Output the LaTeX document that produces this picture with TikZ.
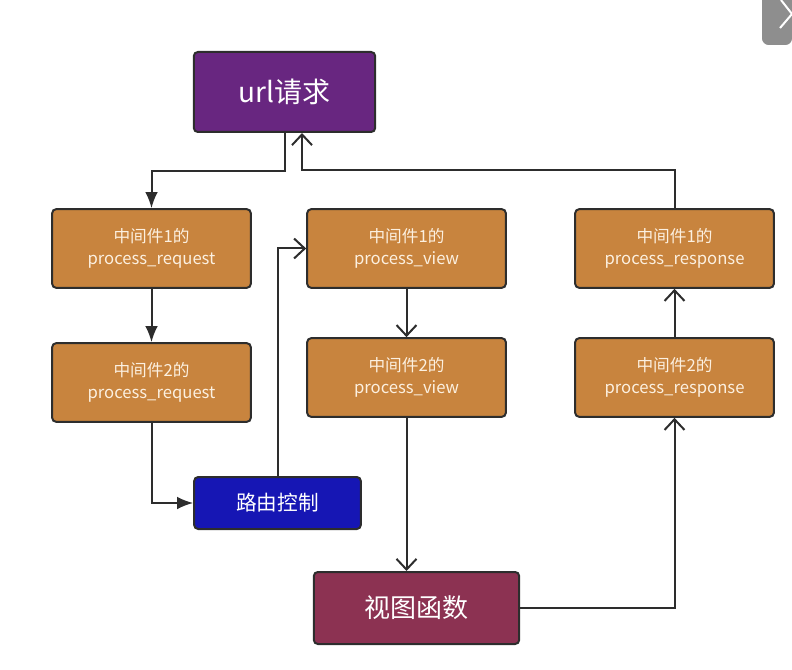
\documentclass[tikz,border=0pt]{standalone}
\usepackage{fontspec}
\newfontfamily\cjk{Noto Sans CJK SC}
\usetikzlibrary{arrows.meta,positioning,calc}
\definecolor{urlpurple}{RGB}{104,38,128}
\definecolor{mworange}{RGB}{200,132,62}
\definecolor{routeblue}{RGB}{22,22,180}
\definecolor{viewred}{RGB}{140,50,82}
\definecolor{lnkgray}{RGB}{45,45,45}
\definecolor{mwtext}{RGB}{252,240,224}
\definecolor{cornergray}{RGB}{142,142,142}
\tikzset{
  blk/.style={rectangle,rounded corners=3pt,draw=lnkgray,line width=1.5pt,
              fill=#1,text=white,align=center,inner sep=0pt},
  blk/.default=mworange,
  mw/.style={blk=mworange,text=mwtext,minimum width=149pt,minimum height=59pt,
             font=\cjk\fontsize{12.5}{16.5}\selectfont},
  filarr/.style={-{Latex[length=12pt,width=9.5pt]},line width=1.5pt,draw=lnkgray},
  opnarr/.style={-{Straight Barb[length=8pt,width=15pt]},line width=1.5pt,draw=lnkgray},
}
\begin{document}
\begin{tikzpicture}[x=0.75pt,y=-0.75pt]
  \useasboundingbox (0,0) rectangle (792,670);

  % corner button
  \fill[cornergray] (792,0) -- (762,0) [rounded corners=5pt] -- (762,45)
        -- (792,45) [sharp corners] -- cycle;
  \draw[white,line width=1.5pt] (781,0) -- (792,14) -- (780,28);

  % blocks
  \node[blk=urlpurple,minimum width=136pt,minimum height=60pt,
        font=\cjk\fontsize{21}{25}\selectfont] (url) at (284.5,92) {url请求};

  \node[mw] (req1) at (151.5,248.5) {中间件1的\\process\_request};
  \node[mw] (req2) at (151.5,382.5) {中间件2的\\process\_request};

  \node[blk=routeblue,minimum width=125pt,minimum height=39pt,
        font=\cjk\fontsize{15.5}{19}\selectfont] (route) at (277.5,503) {路由控制};

  \node[mw] (view1) at (406.5,248.5) {中间件1的\\process\_view};
  \node[mw] (view2) at (406.5,377.5) {中间件2的\\process\_view};

  \node[blk=viewred,minimum width=154pt,minimum height=54pt,
        font=\cjk\fontsize{19.5}{24}\selectfont] (func) at (416.5,608) {视图函数};

  \node[mw] (resp1) at (674.5,248.5) {中间件1的\\process\_response};
  \node[mw] (resp2) at (674.5,377.5) {中间件2的\\process\_response};

  % request path
  \draw[filarr] (url.south) -- ++(0,38) -| (req1.north);
  \draw[filarr] (req1.south) -- (req2.north);
  \draw[filarr] (req2.south) |- (route.west);

  % view path
  \draw[opnarr] (route.north) |- (view1.west);
  \draw[opnarr] (view1.south) -- (view2.north);
  \draw[opnarr] (view2.south) -- (view2.south |- func.north);

  % response path
  \coordinate (back) at (302,170);
  \draw[opnarr] (func.east) -| (resp2.south);
  \draw[opnarr] (resp2.north) -- (resp1.south);
  \draw[opnarr] (resp1.north) |- (back) -- (back |- url.south);
\end{tikzpicture}
\end{document}
